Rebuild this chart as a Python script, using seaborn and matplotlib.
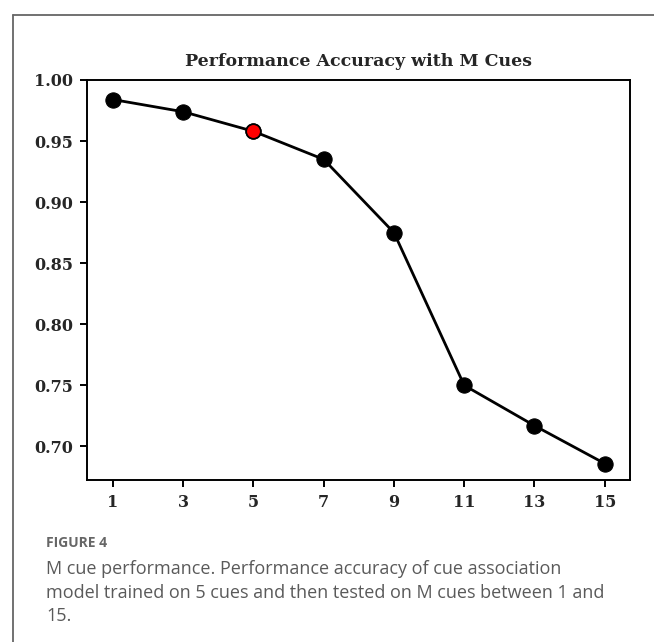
import pandas as pd
import seaborn as sns
import matplotlib.pyplot as plt
from matplotlib.lines import Line2D

# values
m_cues = [1, 3, 5, 7, 9, 11, 13, 15]
accuracy = [0.984, 0.974, 0.958, 0.935, 0.875, 0.750, 0.717, 0.686]
trained_cues = 5
y_ticks = [0.70, 0.75, 0.80, 0.85, 0.90, 0.95, 1.00]

title = "Performance Accuracy with M Cues"
fig_label = "FIGURE 4"
caption = ("M cue performance. Performance accuracy of cue association\n"
           "model trained on 5 cues and then tested on M cues between 1 and\n"
           "15.")

df = pd.DataFrame({"m": m_cues, "acc": accuracy})
highlight = df[df["m"] == trained_cues]

sns.set_style("ticks")
serif = ["DejaVu Serif"]

fig = plt.figure(figsize=(6.54, 6.42), dpi=100)
ax = fig.add_axes([87 / 654, 1 - 480 / 642, (630 - 87) / 654, (480 - 80) / 642])

sns.lineplot(data=df, x="m", y="acc", ax=ax, color="black", linewidth=2.0,
             marker="o", markersize=11, markeredgecolor="black")
sns.scatterplot(data=highlight, x="m", y="acc", ax=ax, color="red", s=110,
                edgecolor="black", linewidth=1.2, zorder=5)

ax.set_xlim(0.26, 15.72)
ax.set_ylim(0.6725, 1.0)
ax.set_xticks(m_cues)
ax.set_yticks(y_ticks)
ax.set_yticklabels([f"{v:.2f}" for v in y_ticks])
ax.set_xlabel("")
ax.set_ylabel("")
for lab in ax.get_xticklabels() + ax.get_yticklabels():
    lab.set_family(serif)
    lab.set_fontweight("bold")
    lab.set_fontsize(11.5)
ax.tick_params(length=5, width=1.4, color="black", pad=5)
for sp in ax.spines.values():
    sp.set_visible(True)
    sp.set_linewidth(1.4)
    sp.set_color("black")
ax.set_title(title, family=serif, fontweight="bold", fontsize=12.5, pad=10)

# outer frame of the figure panel
fig.add_artist(Line2D([13 / 654, 1], [1 - 15 / 642] * 2, color="#666666", lw=1.3))
fig.add_artist(Line2D([13 / 654] * 2, [0, 1 - 15 / 642], color="#666666", lw=1.3))

fig.text(46 / 654, 1 - 543 / 642, fig_label, family=["Open Sans", "DejaVu Sans"],
         fontweight="bold", fontsize=10, color="#666666", va="center")
fig.text(46 / 654, 1 - 560 / 642, caption, family=["Open Sans", "DejaVu Sans"],
         fontsize=13, color="#5a5a5a", va="top", linespacing=1.4)

fig.savefig("out.png", dpi=100)
